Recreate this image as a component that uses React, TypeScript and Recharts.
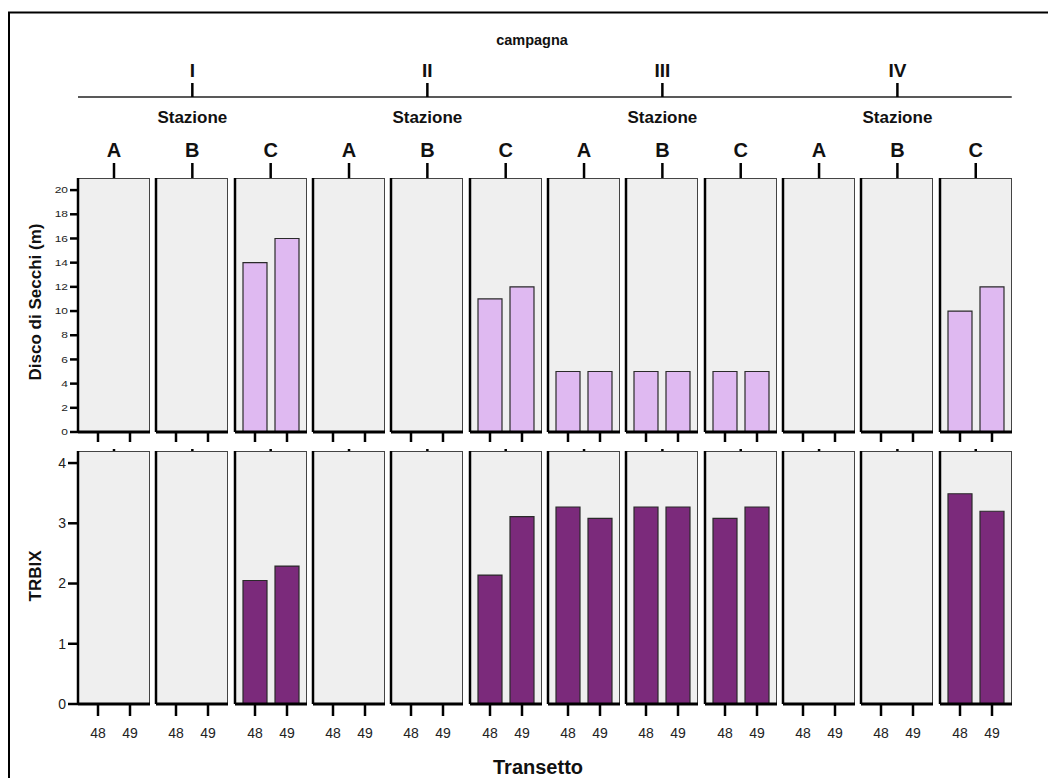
import React from 'react';
import { BarChart, Bar, XAxis, YAxis } from 'recharts';

const campagne = ['I', 'II', 'III', 'IV'];
const stazioni = ['A', 'B', 'C'];
const transetti = ['48', '49'];

// one value per panel (campagna x stazione), null = no bar
const secchi48 = [null, null, 14, null, null, 11, 5, 5, 5, null, null, 10];
const secchi49 = [null, null, 16, null, null, 12, 5, 5, 5, null, null, 12];
const trbix48 = [null, null, 2.05, null, null, 2.14, 3.27, 3.27, 3.08, null, null, 3.49];
const trbix49 = [null, null, 2.29, null, null, 3.11, 3.08, 3.27, 3.27, null, null, 3.2];

const secchiTicks = [0, 2, 4, 6, 8, 10, 12, 14, 16, 18, 20];
const trbixTicks = [0, 1, 2, 3, 4];

const FONT = '"Liberation Sans", Arial, sans-serif';
const PW = 72;
const STEP = 78.34;
const X0 = 70;
const panelLeft = (i: number) => X0 + STEP * i;

const rows = [
  { top: 170, h: 254, a: secchi48, b: secchi49, domain: [0, 21], ticks: secchiTicks, fill: '#dfb9f1', xh: 14 },
  { top: 443, h: 253, a: trbix48, b: trbix49, domain: [0, 4.2], ticks: trbixTicks, fill: '#7b2a7b', xh: 46 },
];

// the small tick labels of the upper panel look vertically squashed
const SquishTick = (props: any) => {
  const { x, y, payload } = props;
  return (
    <g transform={`translate(${x},${y}) scale(1,0.72)`}>
      <text x={0} y={0} dy="0.36em" textAnchor="end" fontSize={12} fontFamily={FONT} fill="#222">
        {payload.value}
      </text>
    </g>
  );
};

function Panel({ i, r }: { i: number; r: number }) {
  const row = rows[r];
  const isTop = r === 0;
  const yw = i === 0 ? 40 : 2;
  const left = panelLeft(i);
  const data = transetti.map((t, k) => ({ t, v: k === 0 ? row.a[i] : row.b[i] }));
  return (
    <>
      <div
        style={{
          position: 'absolute',
          left,
          top: row.top,
          width: PW,
          height: row.h,
          background: '#efefef',
          borderTop: '1px solid #444',
          borderRight: '1px solid #444',
          boxSizing: 'border-box',
        }}
      />
      <div style={{ position: 'absolute', left: left - yw, top: row.top }}>
        <BarChart width={PW + yw} height={row.h + row.xh} data={data} margin={{ top: 0, right: 0, bottom: 0, left: 0 }}>
          <XAxis
            dataKey="t"
            interval={0}
            padding={{ left: 4, right: 4 }}
            height={row.xh}
            axisLine={{ stroke: '#000', strokeWidth: 3 }}
            tickLine={{ stroke: '#000', strokeWidth: 2.5 }}
            tickSize={isTop ? 10 : 12}
            tickMargin={12}
            tickFormatter={isTop ? () => '' : undefined}
            tick={{ fontSize: 14, fill: '#222', fontFamily: FONT }}
          />
          <YAxis
            type="number"
            width={yw}
            domain={row.domain}
            allowDataOverflow
            ticks={row.ticks}
            interval={0}
            axisLine={{ stroke: '#000', strokeWidth: 2.5 }}
            tickLine={i === 0 ? { stroke: '#000', strokeWidth: 2.5 } : false}
            tickSize={isTop ? 8 : 10}
            tickMargin={2}
            tick={i === 0 ? (isTop ? <SquishTick /> : { fontSize: 14, fill: '#222', fontFamily: FONT }) : false}
          />
          <Bar dataKey="v" fill={row.fill} stroke="#2a2a2a" strokeWidth={1.2} barSize={24} isAnimationActive={false} />
        </BarChart>
      </div>
    </>
  );
}

export default function App() {
  const panels = Array.from({ length: 12 }, (_, i) => i);
  return (
    <div style={{ position: 'relative', width: 1040, height: 770, overflow: 'hidden', background: '#fff', fontFamily: FONT }}>
      <svg width={1040} height={770} style={{ position: 'absolute', left: 0, top: 0 }}>
        <rect x={1} y={4.5} width={2000} height={2000} fill="none" stroke="#000" strokeWidth={2} />
        <text x={524} y={37} textAnchor="middle" fontSize={14.5} fontWeight="bold" fill="#111">campagna</text>
        <line x1={X0} x2={panelLeft(11) + PW} y1={89} y2={89} stroke="#222" strokeWidth={1.5} />
        {campagne.map((c, ci) => {
          const cx = (panelLeft(ci * 3) + panelLeft(ci * 3 + 2) + PW) / 2;
          return (
            <g key={c}>
              <text x={cx} y={69} textAnchor="middle" fontSize={19} fontWeight="bold" fill="#111">{c}</text>
              <line x1={cx} x2={cx} y1={75} y2={89} stroke="#000" strokeWidth={2.5} />
              <text x={cx} y={115} textAnchor="middle" fontSize={17} fontWeight="bold" fill="#111">Stazione</text>
            </g>
          );
        })}
        {panels.map((i) => {
          const cx = panelLeft(i) + PW / 2;
          return (
            <g key={i}>
              <text x={cx} y={149} textAnchor="middle" fontSize={20} fontWeight="bold" fill="#111">{stazioni[i % 3]}</text>
              <line x1={cx} x2={cx} y1={155} y2={170} stroke="#000" strokeWidth={2.5} />
              <line x1={cx} x2={cx} y1={441} y2={443} stroke="#000" strokeWidth={2.5} />
            </g>
          );
        })}
        <text x={29} y={294} transform="rotate(-90 29 294)" textAnchor="middle" dominantBaseline="middle" fontSize={17} fontWeight="bold" fill="#111">
          Disco di Secchi (m)
        </text>
        <text x={29} y={568} transform="rotate(-90 29 568)" textAnchor="middle" dominantBaseline="middle" fontSize={17} fontWeight="bold" fill="#111">
          TRBIX
        </text>
        <text x={530} y={766} textAnchor="middle" fontSize={20} fontWeight="bold" fill="#111">Transetto</text>
      </svg>
      {panels.map((i) => (
        <React.Fragment key={i}>
          <Panel i={i} r={0} />
          <Panel i={i} r={1} />
        </React.Fragment>
      ))}
    </div>
  );
}
